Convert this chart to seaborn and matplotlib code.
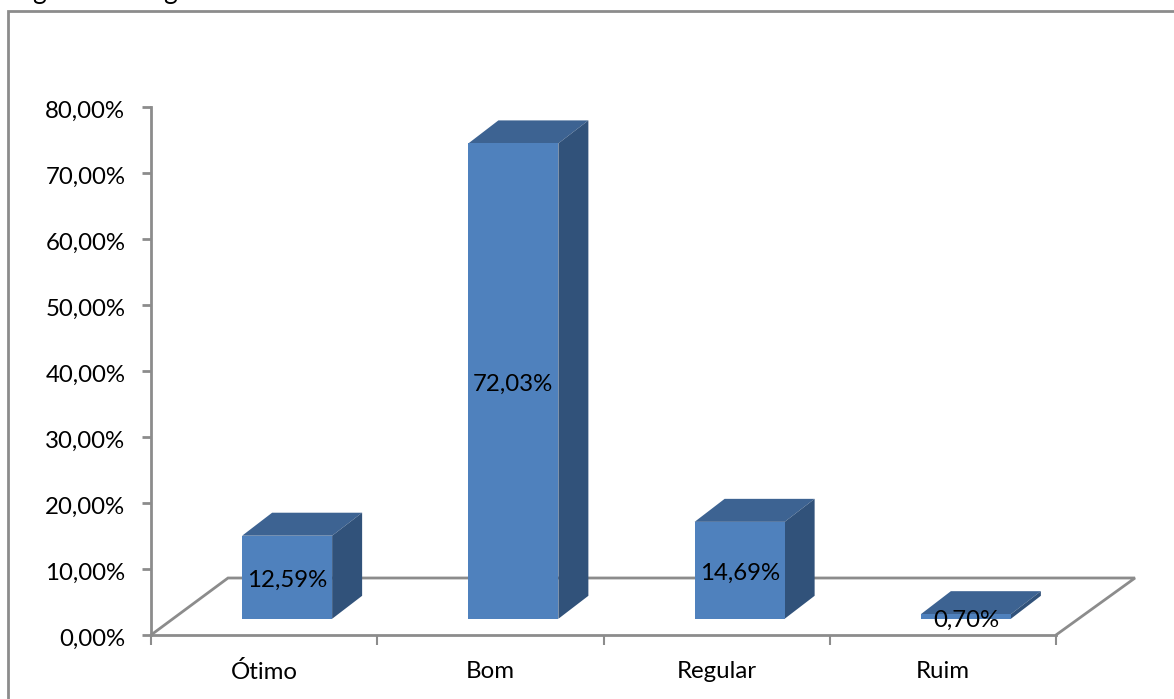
import matplotlib
matplotlib.use("Agg")
import matplotlib.pyplot as plt
from matplotlib.lines import Line2D
from matplotlib.patches import Polygon, Rectangle
from matplotlib.transforms import ScaledTranslation
import pandas as pd
import seaborn as sns

categories = ["Ótimo", "Bom", "Regular", "Ruim"]
values = [12.59, 72.03, 14.69, 0.70]
value_labels = ["12,59%", "72,03%", "14,69%", "0,70%"]
y_ticks = [0, 10, 20, 30, 40, 50, 60, 70, 80]
y_tick_labels = ["0,00%", "10,00%", "20,00%", "30,00%", "40,00%",
                 "50,00%", "60,00%", "70,00%", "80,00%"]

W, H = 1174, 699
FRONT, TOP, SIDE = "#4f81bd", "#3d6392", "#31527a"
GREY = "#8c8c8c"
FS = 17.3

sns.set_theme(style="white")
plt.rcParams["font.family"] = ["Lato", "DejaVu Sans"]

fig = plt.figure(figsize=(W / 100, H / 100), dpi=100, facecolor="white")
ax = fig.add_axes([151 / W, 1 - 635 / H, (1056 - 151) / W, (635 - 107) / H])
ax.set_facecolor("none")

df = pd.DataFrame({"categoria": categories, "valor": values})

# 3D look: the front faces stand forward on a sloped floor
px_x = 4 / (1056 - 151)      # data units per pixel, x
px_y = 80 / (635 - 107)      # data units per pixel, y
base = 16.2 * px_y
shift = 23 * px_x
dx, dy = 30 * px_x, 23 * px_y

sns.barplot(data=df, x="categoria", y="valor", color=FRONT, saturation=1,
            width=90 * px_x, bottom=base, ax=ax, zorder=3, linewidth=0)
ax.set_xlim(-0.5, 3.5)
ax.set_ylim(0, 80)

# floor outline behind the bars
fx, fy = 77 * px_x, 57 * px_y
ax.add_line(Line2D([-0.5, -0.5 + fx, 3.5 + 79 * px_x, 3.5],
                   [0, fy, fy, 0], color=GREY, lw=2, zorder=1, clip_on=False,
                   solid_joinstyle="miter"))

for patch, label in zip(ax.patches, value_labels):
    patch.set_x(patch.get_x() + shift)
    x0, w = patch.get_x(), patch.get_width()
    y0, h = patch.get_y(), patch.get_height()
    y1 = y0 + h
    ax.add_patch(Polygon([(x0, y1), (x0 + w, y1), (x0 + w + dx, y1 + dy), (x0 + dx, y1 + dy)],
                         facecolor=TOP, edgecolor="none", zorder=2.5))
    ax.add_patch(Polygon([(x0 + w, y0), (x0 + w + dx, y0 + dy), (x0 + w + dx, y1 + dy), (x0 + w, y1)],
                         facecolor=SIDE, edgecolor="none", zorder=2.5))
    ax.text(x0 + w / 2, y0 + h / 2 - 3.5 * px_y, label, ha="center", va="center",
            fontsize=FS, color="black", zorder=5)

for side in ("top", "right"):
    ax.spines[side].set_visible(False)
for side in ("left", "bottom"):
    ax.spines[side].set_color(GREY)
    ax.spines[side].set_linewidth(2)

ax.set_yticks(y_ticks, y_tick_labels, fontsize=FS, color="black")
ax.set_xticks([-0.5, 0.5, 1.5, 2.5, 3.5], [""] * 5)
ax.set_xticks(range(4), categories, minor=True, fontsize=FS, color="black")
ax.tick_params(axis="y", which="major", left=True, length=6.5, width=2, color=GREY, pad=12)
ax.tick_params(axis="x", which="major", bottom=True, length=7, width=1.5, color=GREY)
ax.tick_params(axis="x", which="minor", bottom=False, pad=15)
ax.set_xlabel("")
ax.set_ylabel("")

# nudge the value-axis labels slightly below their ticks
nudge = ScaledTranslation(0, -2 / 100, fig.dpi_scale_trans)
for tick_label in ax.get_yticklabels():
    tick_label.set_transform(tick_label.get_transform() + nudge)

# chart frame, running off the right and bottom of the page
fig.add_artist(Rectangle((8 / W, -0.05), 1.2, 1 - 11 / H + 0.05, transform=fig.transFigure,
                         facecolor="none", edgecolor=GREY, lw=2))

# caption line above the frame, cut by the page edge
for gx in (39, 170):
    fig.text(gx / W, 1 + 1 / H, "g", ha="center", va="baseline", fontsize=19, color="black")

fig.savefig("out.png", dpi=100)
